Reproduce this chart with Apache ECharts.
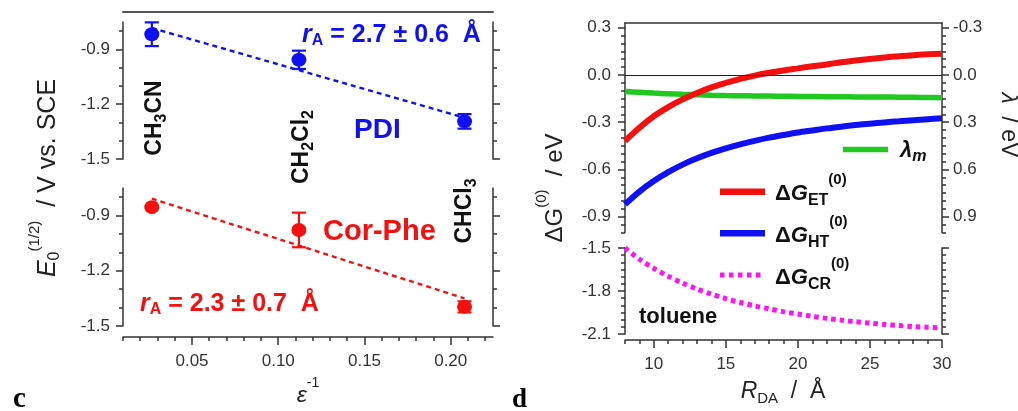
<!DOCTYPE html>
<html><head><meta charset="utf-8">
<script src="https://cdn.jsdelivr.net/npm/echarts@6/dist/echarts.min.js"></script>
<style>html,body{margin:0;padding:0;background:#fff}#c{width:1018px;height:411px}</style>
</head><body><div id="c"></div>
<script>
// ---------- Panel c data ----------
const solvents = ['CH3CN', 'CH2Cl2', 'CHCl3'];
const invEps = [0.0267, 0.112, 0.208];
const pdiE = [-0.817, -0.957, -1.294];
const pdiErr = [0.065, 0.05, 0.04];
const corE = [-0.854, -0.978, -1.396];
const corErr = [0.0, 0.094, 0.03];
const pdiFitX = [0.0267, 0.208];
const pdiFitY = [-0.783, -1.274];
const corFitX = [0.0267, 0.208];
const corFitY = [-0.808, -1.350];
const cXTicks = [0.05, 0.10, 0.15, 0.20];
const cYTicks = [-1.5, -1.2, -0.9];

// ---------- Panel d data ----------
const rDA = [8, 9, 10, 11, 12, 13, 14, 15, 16, 17, 18, 19, 20, 21, 22, 23, 24, 25, 26, 27, 28, 29, 30];
const dGET = [-0.419, -0.335, -0.262, -0.204, -0.155, -0.114, -0.079, -0.050, -0.025, -0.004, 0.014, 0.029, 0.042, 0.055, 0.067, 0.081, 0.092, 0.102, 0.111, 0.119, 0.126, 0.131, 0.135];
const dGHT = [-0.821, -0.740, -0.673, -0.617, -0.569, -0.529, -0.495, -0.466, -0.440, -0.418, -0.398, -0.381, -0.365, -0.352, -0.339, -0.328, -0.318, -0.309, -0.301, -0.294, -0.287, -0.281, -0.275];
const dGCR = [-1.500, -1.578, -1.642, -1.697, -1.745, -1.786, -1.822, -1.853, -1.880, -1.904, -1.925, -1.944, -1.961, -1.977, -1.991, -2.003, -2.014, -2.024, -2.033, -2.041, -2.048, -2.053, -2.058];
const lambdaM = [0.105, 0.110, 0.115, 0.119, 0.123, 0.126, 0.129, 0.131, 0.132, 0.133, 0.134, 0.135, 0.136, 0.137, 0.138, 0.138, 0.139, 0.139, 0.140, 0.141, 0.142, 0.143, 0.144];
const dXTicks = [10, 15, 20, 25, 30];
const dYTopTicks = [-0.9, -0.6, -0.3, 0.0, 0.3];
const dYRightTicks = [-0.3, 0.0, 0.3, 0.6, 0.9];
const dYBotTicks = [-2.1, -1.8, -1.5];

// ---------- styling ----------
const FONT = "'Liberation Sans', Arial, Helvetica, sans-serif";
const AX = '#333';
const BLUE = '#1010f5', RED = '#f51010', GREEN = '#20c820', MAG = '#ff10ff';

function steps(a, b, s, skip) {
  const out = [];
  const n = Math.round((b - a) / s);
  for (let i = 0; i <= n; i++) {
    const v = Math.round((a + i * s) * 10000) / 10000;
    if (!skip || !skip.some(m => Math.abs(m - v) < 1e-6)) out.push(v);
  }
  return out;
}
const f1 = v => (Math.abs(v) < 1e-9 ? '0.0' : v.toFixed(1));
const f2 = v => v.toFixed(2);
const f0 = v => String(Math.round(v));

function axis(gridIndex, position, min, max, c) {
  c = c || {};
  return {
    type: 'value', gridIndex, position, min, max,
    show: c.show !== false,
    inverse: !!c.inverse, offset: c.offset || 0, silent: true,
    splitLine: { show: false },
    axisLine: { show: !!c.line, onZero: false, lineStyle: { color: c.lineColor || AX, width: c.lineWidth || 1.5 } },
    axisTick: { show: !!c.ticks, customValues: c.ticks, length: c.tickLen || 7, lineStyle: { color: AX, width: 1.5 } },
    axisLabel: { show: !!c.labels, customValues: c.labels, formatter: c.fmt, margin: c.margin || 12, color: '#333', fontSize: 17, fontFamily: FONT }
  };
}

const cXMin = 0.01, cXMax = 0.2245;
const cYMin = -1.5, cYMax = -0.75;
const cXMinor = steps(0.01, 0.22, 0.01, cXTicks);
const cYMinor = steps(-1.5, -0.8, 0.1, cYTicks);
const dYTopMinor = steps(-1.0, 0.3, 0.05, dYTopTicks);
const dYRightMinor = steps(-0.3, 1.0, 0.05, dYRightTicks);
const dYBotMinor = steps(-2.1, -1.5, 0.05, dYBotTicks);
const dXMinor = steps(8, 30, 1, dXTicks);

const grids = [
  { left: 123, top: 22, width: 370, height: 137 },
  { left: 123, top: 188, width: 370, height: 138 },
  { left: 625, top: 23, width: 317, height: 209.5 },
  { left: 625, top: 248, width: 317, height: 86 }
].map(g => Object.assign({ containLabel: false, outerBoundsMode: 'none' }, g));

const xAxes = [
  axis(0, 'bottom', cXMin, cXMax, { show: false }),
  axis(0, 'top', cXMin, cXMax, { line: true, offset: 10, lineColor: '#555', lineWidth: 2 }),
  axis(1, 'bottom', cXMin, cXMax, { line: true, offset: 11, ticks: cXTicks, labels: cXTicks, fmt: f2, tickLen: 8, margin: 16 }),
  axis(1, 'bottom', cXMin, cXMax, { offset: 11, ticks: cXMinor, tickLen: 4 }),
  axis(2, 'bottom', 8, 30, { show: false }),
  axis(2, 'top', 8, 30, { line: true, lineWidth: 1.5 }),
  axis(3, 'bottom', 8, 30, { line: true, offset: 6, ticks: dXTicks, labels: dXTicks, fmt: f0, tickLen: 8, margin: 16 }),
  axis(3, 'bottom', 8, 30, { offset: 6, ticks: dXMinor, tickLen: 4 })
];

const yAxes = [
  axis(0, 'left', cYMin, cYMax, { line: true, ticks: cYTicks, labels: cYTicks, fmt: f1, margin: 13 }),
  axis(0, 'left', cYMin, cYMax, { ticks: cYMinor, tickLen: 4 }),
  axis(0, 'right', cYMin, cYMax, { line: true, ticks: cYTicks }),
  axis(0, 'right', cYMin, cYMax, { ticks: cYMinor, tickLen: 4 }),
  axis(1, 'left', cYMin, cYMax, { line: true, ticks: cYTicks, labels: cYTicks, fmt: f1, margin: 13 }),
  axis(1, 'left', cYMin, cYMax, { ticks: cYMinor, tickLen: 4 }),
  axis(1, 'right', cYMin, cYMax, { line: true, ticks: cYTicks }),
  axis(1, 'right', cYMin, cYMax, { ticks: cYMinor, tickLen: 4 }),
  axis(2, 'left', -1.0, 0.33, { line: true, ticks: dYTopTicks, labels: dYTopTicks, fmt: f1, margin: 14 }),
  axis(2, 'left', -1.0, 0.33, { ticks: dYTopMinor, tickLen: 4 }),
  axis(2, 'right', -0.33, 1.0, { inverse: true, line: true, ticks: dYRightTicks, labels: dYRightTicks, fmt: f1, margin: 11 }),
  axis(2, 'right', -0.33, 1.0, { inverse: true, ticks: dYRightMinor, tickLen: 4 }),
  axis(3, 'left', -2.1, -1.5, { line: true, ticks: dYBotTicks, labels: dYBotTicks, fmt: f1, margin: 14 }),
  axis(3, 'left', -2.1, -1.5, { ticks: dYBotMinor, tickLen: 4 }),
  axis(3, 'right', -2.1, -1.5, { line: true, ticks: dYBotTicks }),
  axis(3, 'right', -2.1, -1.5, { ticks: dYBotMinor, tickLen: 4 })
];

function errSeries(xi, yi, xs, ys, es, color) {
  return {
    type: 'custom', xAxisIndex: xi, yAxisIndex: yi, silent: true, z: 3,
    data: xs.map((x, i) => [x, ys[i], es[i]]),
    encode: { x: 0, y: 1 },
    renderItem(params, api) {
      const x = api.value(0), y = api.value(1), e = api.value(2);
      if (!(e > 0)) return { type: 'group', children: [] };
      const t = api.coord([x, y + e]), b = api.coord([x, y - e]);
      const hw = 7, st = { stroke: color, lineWidth: 2.2 };
      return { type: 'group', children: [
        { type: 'line', shape: { x1: t[0], y1: t[1], x2: b[0], y2: b[1] }, style: st },
        { type: 'line', shape: { x1: t[0] - hw, y1: t[1], x2: t[0] + hw, y2: t[1] }, style: st },
        { type: 'line', shape: { x1: b[0] - hw, y1: b[1], x2: b[0] + hw, y2: b[1] }, style: st }
      ] };
    }
  };
}
function zip(a, b) { return a.map((v, i) => [v, b[i]]); }

const series = [
  { type: 'line', xAxisIndex: 0, yAxisIndex: 0, data: zip(pdiFitX, pdiFitY), symbol: 'none', silent: true, z: 2,
    lineStyle: { color: BLUE, width: 2.4, type: [5, 4] } },
  errSeries(0, 0, invEps, pdiE, pdiErr, BLUE),
  { type: 'scatter', xAxisIndex: 0, yAxisIndex: 0, data: zip(invEps, pdiE), symbol: 'circle', symbolSize: [15, 14], z: 4,
    itemStyle: { color: BLUE, opacity: 1 } },
  { type: 'line', xAxisIndex: 2, yAxisIndex: 4, data: zip(corFitX, corFitY), symbol: 'none', silent: true, z: 2,
    lineStyle: { color: RED, width: 2.4, type: [5, 4] } },
  errSeries(2, 4, invEps, corE, corErr, RED),
  { type: 'scatter', xAxisIndex: 2, yAxisIndex: 4, data: zip(invEps, corE), symbol: 'circle', symbolSize: [15, 14], z: 4,
    itemStyle: { color: RED, opacity: 1 } },
  // panel d
  { type: 'line', name: 'λm', xAxisIndex: 4, yAxisIndex: 10, data: zip(rDA, lambdaM), symbol: 'none', smooth: 0.3,
    lineStyle: { color: GREEN, width: 5.5 }, z: 2,
    markLine: { silent: true, symbol: 'none', label: { show: false }, lineStyle: { color: '#222', width: 1.2, type: 'solid' },
      data: [{ yAxis: 0 }] } },
  { type: 'line', name: 'ΔG_HT', xAxisIndex: 4, yAxisIndex: 8, data: zip(rDA, dGHT), symbol: 'none', smooth: 0.3,
    lineStyle: { color: BLUE, width: 6 }, z: 3 },
  { type: 'line', name: 'ΔG_ET', xAxisIndex: 4, yAxisIndex: 8, data: zip(rDA, dGET), symbol: 'none', smooth: 0.3,
    lineStyle: { color: RED, width: 6 }, z: 4 },
  { type: 'line', name: 'ΔG_CR', xAxisIndex: 6, yAxisIndex: 12, data: zip(rDA, dGCR), symbol: 'none', smooth: 0.3,
    lineStyle: { color: MAG, width: 5, type: [4.5, 4], cap: 'butt' }, z: 3 }
];

// ---------- text annotations ----------
function txt(x, y, text, rich, o) {
  o = o || {};
  return { type: 'text', x, y, rotation: o.rot || 0, silent: true, z: 50,
    style: { text, rich, fill: o.fill || '#111', fontFamily: o.family || FONT, fontSize: o.size || 20,
      fontWeight: o.weight || 'bold', align: o.align || 'left', verticalAlign: 'middle' } };
}
const B = (size, extra) => Object.assign({ fontFamily: FONT, fontWeight: 'bold', fontSize: size }, extra || {});
const R = (size, extra) => Object.assign({ fontFamily: FONT, fontWeight: 'normal', fontSize: size }, extra || {});

const rArich = (fill) => ({
  i: B(25, { fontStyle: 'italic', fill }),
  s: B(16, { fill, padding: [12, 0, 0, 0] }),
  n: B(25, { fill })
});
const solvRich = { n: B(23), s: B(16, { padding: [13, 0, 0, 0] }) };
const legRich = {
  d: B(22), g: B(22, { fontStyle: 'italic' }),
  s: B(16, { padding: [14, 0, 0, 0] }), p: B(15, { padding: [0, 0, 28, 0] })
};

const graphic = [
  txt(302, 35, '{i|r}{s|A}{n| = 2.7 ± 0.6  Å}', rArich(BLUE), { fill: BLUE }),
  txt(354, 130, 'PDI', null, { fill: BLUE, size: 28 }),
  txt(323, 232, 'Cor-Phe', null, { fill: RED, size: 29 }),
  txt(140, 304, '{i|r}{s|A}{n| = 2.3 ± 0.7  Å}', rArich(RED), { fill: RED }),
  txt(155, 118, '{n|CH}{s|3}{n|CN}', solvRich, { rot: Math.PI / 2, align: 'center' }),
  txt(302, 147, '{n|CH}{s|2}{n|Cl}{s|2}', solvRich, { rot: Math.PI / 2, align: 'center' }),
  txt(465, 211, '{n|CHCl}{s|3}', solvRich, { rot: Math.PI / 2, align: 'center' }),
  txt(48, 178, '{i|E}{s|0}{p|(1/2)}{n|  / V vs. SCE}', {
    i: R(25, { fontStyle: 'italic' }), s: R(16, { padding: [13, 0, 0, 0] }),
    p: R(15, { padding: [0, 0, 26, 0] }), n: R(25)
  }, { rot: Math.PI / 2, align: 'center', weight: 'normal', fill: '#222' }),
  txt(308, 396, '{e|ε}{p|-1}', { e: R(23, { fontStyle: 'italic' }), p: R(14, { padding: [0, 0, 26, 0] }) },
    { align: 'center', weight: 'normal', fill: '#222' }),
  txt(13, 400, 'c', null, { family: "'Liberation Serif', 'Times New Roman', serif", size: 29, fill: '#000' }),
  txt(512, 400, 'd', null, { family: "'Liberation Serif', 'Times New Roman', serif", size: 27, fill: '#000' }),
  // panel d texts
  txt(555, 188, '{d|Δ}{g|G}{p|(0)}{n|  / eV}', {
    d: R(24), g: R(24), p: R(15, { padding: [0, 0, 26, 0] }), n: R(24)
  }, { rot: Math.PI / 2, align: 'center', weight: 'normal', fill: '#222' }),
  txt(1008, 125, '{l|λ}{n|  / eV}', { l: R(23, { fontStyle: 'italic' }), n: R(23) },
    { rot: -Math.PI / 2, align: 'center', weight: 'normal', fill: '#222' }),
  txt(783, 392, '{i|R}{s|DA}{n|  /  Å}', { i: R(23, { fontStyle: 'italic' }), s: R(15, { padding: [14, 0, 0, 0] }), n: R(23) },
    { align: 'center', weight: 'normal', fill: '#222' }),
  txt(639, 317, 'toluene', null, { size: 22, fill: '#111' }),
  // legend
  { type: 'line', silent: true, shape: { x1: 843, y1: 149.5, x2: 888, y2: 149.5 }, style: { stroke: GREEN, lineWidth: 5.5 } },
  txt(900, 151, '{l|λ}{s|m}', { l: B(22, { fontStyle: 'italic' }), s: B(16, { fontStyle: 'italic', padding: [12, 0, 0, 0] }) }),
  { type: 'line', silent: true, shape: { x1: 720, y1: 191.7, x2: 765, y2: 191.7 }, style: { stroke: RED, lineWidth: 6.5 } },
  txt(775, 194, '{d|Δ}{g|G}{s|ET}{p|(0)}', legRich),
  { type: 'line', silent: true, shape: { x1: 720, y1: 233.3, x2: 765, y2: 233.3 }, style: { stroke: BLUE, lineWidth: 6.5 } },
  txt(775, 236, '{d|Δ}{g|G}{s|HT}{p|(0)}', legRich),
  { type: 'line', silent: true, shape: { x1: 720, y1: 275, x2: 765, y2: 275 }, style: { stroke: MAG, lineWidth: 5, lineDash: [4.5, 4.5] } },
  txt(775, 278, '{d|Δ}{g|G}{s|CR}{p|(0)}', legRich)
];

const chart = echarts.init(document.getElementById('c'), null, { renderer: 'canvas' });
chart.setOption({
  animation: false,
  backgroundColor: '#fff',
  grid: grids,
  xAxis: xAxes,
  yAxis: yAxes,
  series,
  graphic
});
</script>
</body></html>
